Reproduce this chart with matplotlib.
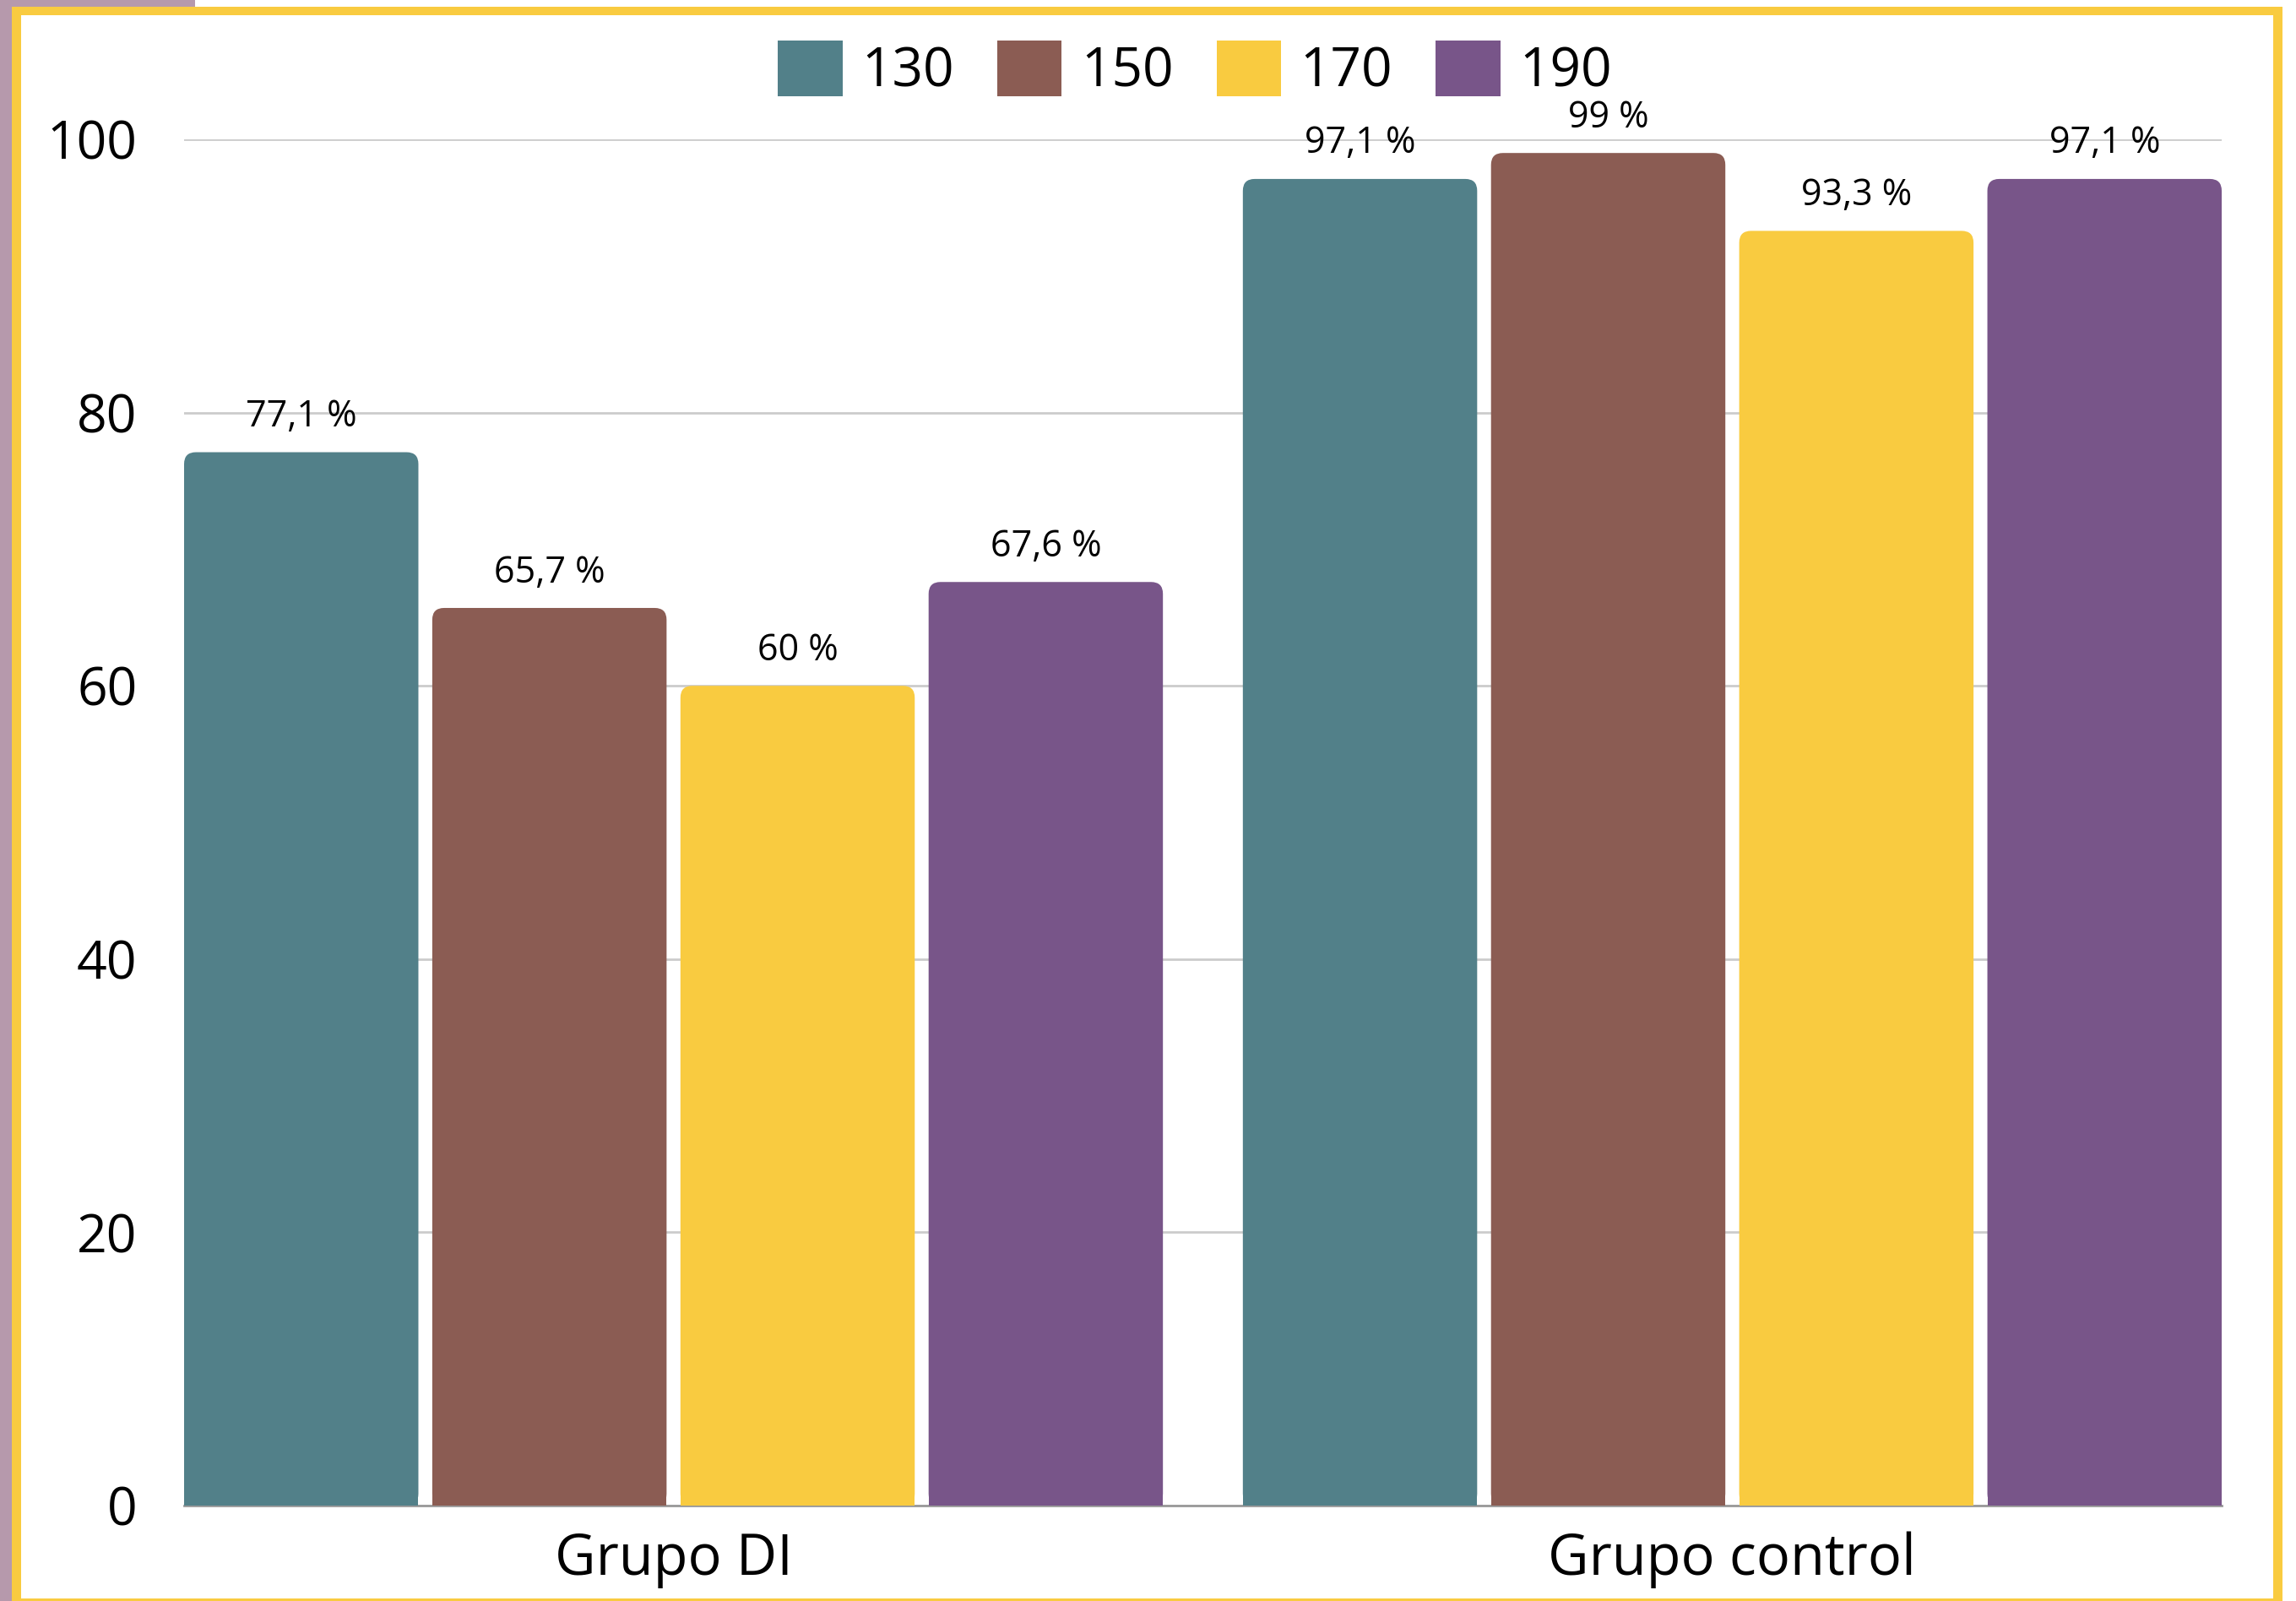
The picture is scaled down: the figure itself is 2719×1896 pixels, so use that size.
import matplotlib.pyplot as plt
import numpy as np
from matplotlib.patches import Rectangle, FancyBboxPatch

plt.rcParams['font.family'] = ['Open Sans', 'DejaVu Sans']

groups = ['Grupo DI', 'Grupo control']
series = ['130', '150', '170', '190']
values = {
    '130': [77.1, 97.1],
    '150': [65.7, 99.0],
    '170': [60.0, 93.3],
    '190': [67.6, 97.1],
}
value_labels = {
    '130': ['77,1 %', '97,1 %'],
    '150': ['65,7 %', '99 %'],
    '170': ['60 %', '93,3 %'],
    '190': ['67,6 %', '97,1 %'],
}
colors = ['#528089', '#8B5C53', '#F9CB40', '#785589']

W, H = 2719, 1896
fig = plt.figure(figsize=(W / 100, H / 100), dpi=100)


def px_rect(x0, y0, x1, y1, color, z):
    # pixel box (top-left origin) -> figure fraction rectangle
    fig.patches.append(Rectangle((x0 / W, 1 - y1 / H), (x1 - x0) / W, (y1 - y0) / H,
                                 transform=fig.transFigure, facecolor=color,
                                 edgecolor='none', zorder=z))


# outer decoration frame
px_rect(0, 0, 14, H, '#B699AC', -3)
px_rect(0, 0, 231, 8, '#B699AC', -3)
px_rect(14, 8, 2703, H, '#F9CB40', -2)
px_rect(25, 18, 2692, 1893, 'white', -1)

ax = fig.add_axes([218 / W, 1 - 1783 / H, (2631 - 218) / W, (1783 - 165) / H])
ax.set_facecolor('none')

x = np.arange(len(groups))
step = 0.2344
width = 0.2213
ax.set_xlim(-1.5 * step - width / 2, 1 + 1.5 * step + width / 2)
ax.set_ylim(0, 100)

# radius of rounded top, in pixels -> data units
r_px = 14
x_per_px = (ax.get_xlim()[1] - ax.get_xlim()[0]) / (2631 - 218)
y_per_px = 100 / (1783 - 165)
rx, ry = r_px * x_per_px, r_px * y_per_px

for i, s in enumerate(series):
    bars = ax.bar(x + (i - 1.5) * step, values[s], width, color=colors[i],
                  label=s, zorder=3)
    ax.bar_label(bars, labels=value_labels[s], padding=14, fontsize=31)
    for rect in bars:
        bx, bw, bh = rect.get_x(), rect.get_width(), rect.get_height()
        ax.add_patch(FancyBboxPatch((bx, 0), bw, bh,
                                    boxstyle=f"round,pad=0,rounding_size={rx}",
                                    mutation_aspect=ry / rx,
                                    facecolor=colors[i], edgecolor='none', zorder=3))
        rect.set_height(bh / 2)

ax.set_yticks([0, 20, 40, 60, 80, 100])
ax.grid(axis='y', color='#CCCCCC', linewidth=2, zorder=0)
ax.set_axisbelow(True)
ax.set_xticks(x)
ax.set_xticklabels(groups, fontsize=48)
ax.tick_params(axis='x', length=0, pad=22)
ax.tick_params(axis='y', length=0, pad=40, labelsize=45)
for side in ['top', 'right', 'left']:
    ax.spines[side].set_visible(False)
ax.spines['bottom'].set_color('#999999')
ax.spines['bottom'].set_linewidth(2)

fig.legend(loc='center', bbox_to_anchor=(1415 / W, 1 - 83 / H), ncol=4,
           frameon=False, fontsize=46, handlelength=1.2, handleheight=1.2,
           handletextpad=0.35, columnspacing=0.8)

plt.savefig('out.png', dpi=100)
